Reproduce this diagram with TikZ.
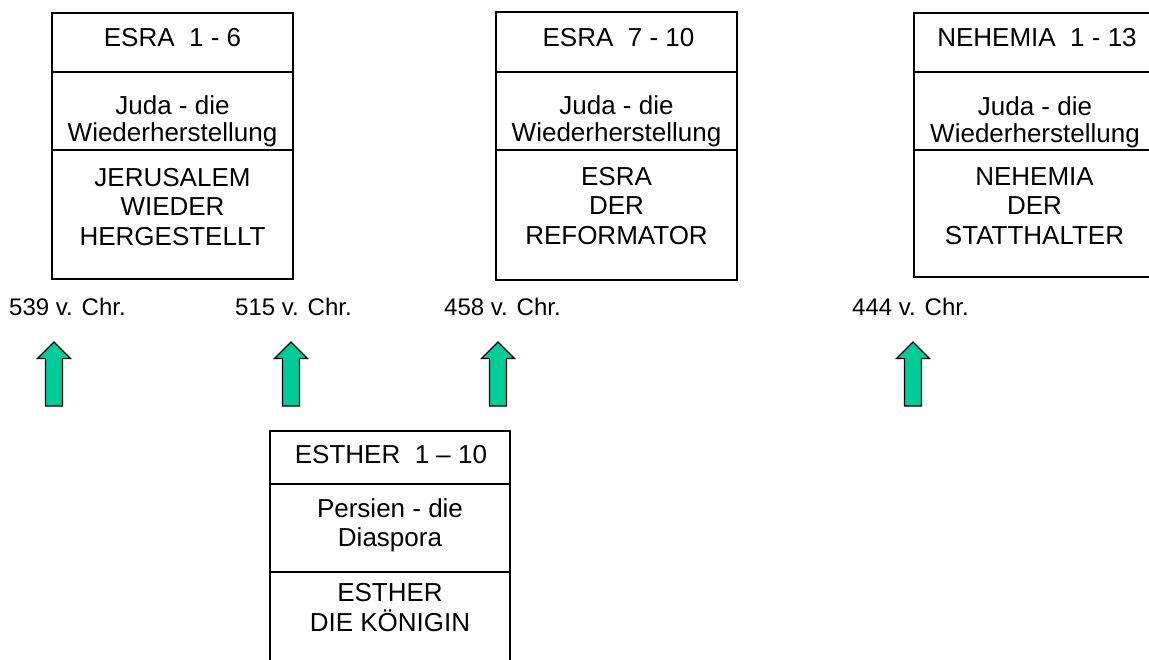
\documentclass[tikz,border=0pt]{standalone}
\usepackage{fontspec}
\setmainfont{Liberation Sans}
\definecolor{arrowgreen}{RGB}{0,204,153}
\begin{document}
\begin{tikzpicture}[x=1pt,y=-1pt,
  row/.style={draw=black, line width=1.3pt, minimum width=241pt, inner sep=0pt, outer sep=0pt, anchor=north west},
  boxtext/.style={font=\fontsize{26}{27}\selectfont, align=center, anchor=north, inner sep=0pt},
  bigtext/.style={font=\fontsize{26}{29.5}\selectfont, align=center, anchor=north, inner sep=0pt},
  datetext/.style={font=\fontsize{24}{28}\selectfont, anchor=north west, inner sep=0pt},
  uparrow/.style={fill=arrowgreen, draw=black, line width=1.2pt, line join=miter}]
\useasboundingbox (0,0) rectangle (1149,659);

% ESRA 1 - 6
\node[row, minimum height=59pt]  (b1a) at (52,13) {};
\node[row, minimum height=78pt]  (b1b) at (52,72) {};
\node[row, minimum height=129pt] (b1c) at (52,150) {};
\node[boxtext] (t1a) at (172.5,28) {ESRA\ \ 1 - 6};
\node[boxtext] (t1b) at (172.5,95) {Juda - die\\Wiederherstellung};
\node[bigtext] (t1c) at (172.5,168) {JERUSALEM\\WIEDER\\HERGESTELLT};

% ESRA 7 - 10
\node[row, minimum height=60pt]  (b2a) at (496,12) {};
\node[row, minimum height=78pt]  (b2b) at (496,72) {};
\node[row, minimum height=130pt] (b2c) at (496,150) {};
\node[boxtext] (t2a) at (618.5,28) {ESRA\ \ 7 - 10};
\node[boxtext] (t2b) at (616.5,95) {Juda - die\\Wiederherstellung};
\node[bigtext] (t2c) at (616.5,167) {ESRA\\DER\\REFORMATOR};

% NEHEMIA 1 - 13
\node[row, minimum height=59pt]  (b3a) at (914,13) {};
\node[row, minimum height=78pt]  (b3b) at (914,72) {};
\node[row, minimum height=127pt] (b3c) at (914,150) {};
\node[boxtext] (t3a) at (1037,28) {NEHEMIA\ \ 1 - 13};
\node[boxtext] (t3b) at (1035,96) {Juda - die\\Wiederherstellung};
\node[bigtext] (t3c) at (1034.5,167) {NEHEMIA\\DER\\STATTHALTER};

% ESTHER 1 - 10
\node[row, minimum width=240pt, minimum height=53pt]  (b4a) at (270,431) {};
\node[row, minimum width=240pt, minimum height=88pt]  (b4b) at (270,484) {};
\node[row, minimum width=240pt, minimum height=110pt] (b4c) at (270,572) {};
\node[boxtext] (t4a) at (391,445) {ESTHER\ \ 1 -- 10};
\node[bigtext, font=\fontsize{26}{29}\selectfont] (t4b) at (390,498) {Persien - die\\Diaspora};
\node[bigtext, font=\fontsize{26}{30}\selectfont] (t4c) at (390,583) {ESTHER\\DIE KÖNIGIN};

% dates
\node[datetext] (d1) at (9,298)   {539 v. Chr.};
\node[datetext] (d2) at (235,298) {515 v. Chr.};
\node[datetext] (d3) at (444,298) {458 v. Chr.};
\node[datetext] (d4) at (852,298) {444 v. Chr.};

% arrows
\foreach \x in {54,291,498,913}{
  \draw[uparrow] (\x,342) -- (\x+16.5,358.5) -- (\x+8.5,358.5) -- (\x+8.5,406)
     -- (\x-8.5,406) -- (\x-8.5,358.5) -- (\x-16.5,358.5) -- cycle;
}
\end{tikzpicture}
\end{document}
